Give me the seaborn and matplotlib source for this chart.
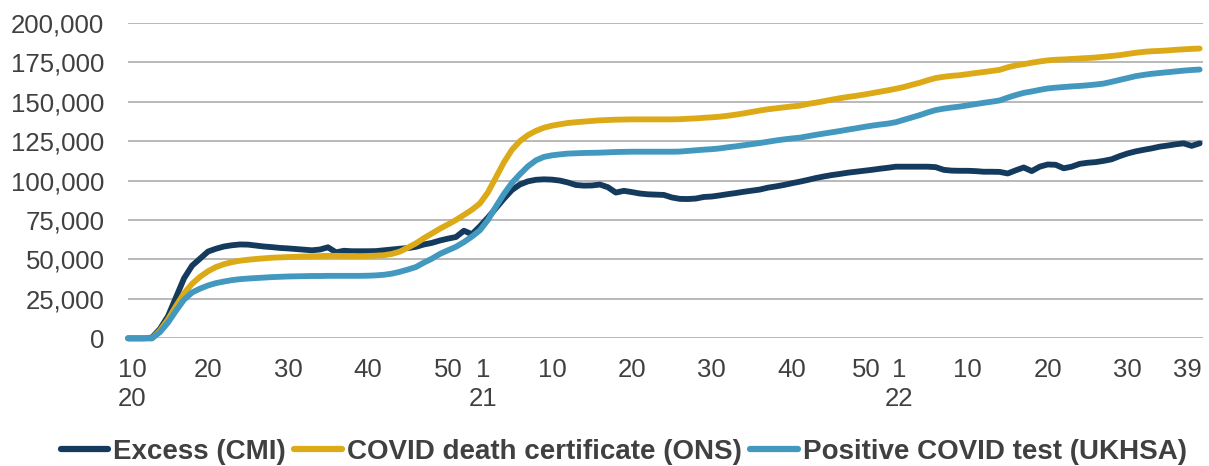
import numpy as np
import pandas as pd
import matplotlib.pyplot as plt
import matplotlib.transforms as mtrans
import seaborn as sns
from matplotlib.ticker import FuncFormatter

# weekly timeline: 2020 wk10 .. 2022 wk39
years = [2020] * 44 + [2021] * 52 + [2022] * 39
weeks = list(range(10, 54)) + list(range(1, 53)) + list(range(1, 40))

excess_cmi = [
    0, 0, 0, 500, 6000, 14000, 26000, 38000, 46000, 50500,
    55000, 56800, 58200, 59000, 59500, 59400, 58800, 58200, 57800, 57300,
    57000, 56600, 56200, 55800, 56300, 57700, 54500, 55500, 55200, 55200,
    55200, 55300, 55800, 56300, 56800, 57200, 58000, 59500, 60500, 62000,
    63200, 64200, 68200, 66000, 71000, 76500, 82500, 88500, 94000, 97500,
    99500, 100500, 100800, 100600, 100000, 98800, 97200, 96800, 96900, 97500,
    95800, 92400, 93500, 92700, 91800, 91300, 91100, 90900, 89300, 88400,
    88300, 88600, 89600, 89900, 90600, 91400, 92100, 92900, 93600, 94300,
    95500, 96300, 97200, 98300, 99300, 100400, 101600, 102600, 103500, 104200,
    105000, 105600, 106200, 106800, 107500, 108100, 108800, 108800, 108800, 108800,
    108800, 108500, 106800, 106300, 106200, 106200, 106000, 105600, 105600, 105500,
    104500, 106500, 108300, 106000, 108800, 110200, 110000, 107800, 108800, 110600,
    111300, 111700, 112500, 113500, 115500, 117200, 118500, 119500, 120400, 121500,
    122200, 123000, 123600, 122000, 123600,
]

ons_cert = [
    0, 0, 0, 0, 5000, 12000, 20500, 28500, 34500, 39000,
    42500, 45200, 47000, 48300, 49200, 49800, 50300, 50700, 51100, 51300,
    51500, 51700, 51900, 52000, 52100, 52300, 52300, 52200, 52200, 52100,
    52200, 52400, 52700, 53500, 55000, 57500, 60200, 63500, 66500, 69500,
    72200, 75000, 78200, 81500, 85500, 92500, 102000, 111500, 119500, 125000,
    128800, 131500, 133500, 134800, 135700, 136500, 137000, 137400, 137800, 138200,
    138400, 138600, 138700, 138800, 138800, 138800, 138800, 138800, 138800, 138900,
    139200, 139400, 139800, 140100, 140500, 141100, 141800, 142600, 143500, 144400,
    145200, 145800, 146400, 147000, 147500, 148600, 149400, 150300, 151300, 152200,
    153000, 153700, 154500, 155400, 156300, 157200, 158200, 159300, 160700, 162000,
    163600, 165000, 165800, 166400, 166800, 167500, 168200, 168800, 169500, 170200,
    171800, 173000, 173800, 174700, 175500, 176200, 176600, 176800, 177100, 177400,
    177700, 178000, 178500, 179000, 179500, 180300, 181000, 181600, 182000, 182200,
    182500, 182900, 183200, 183500, 183700,
]

ukhsa_test = [
    0, 0, 0, 0, 4000, 10000, 17500, 24500, 29000, 31500,
    33500, 35000, 36000, 36900, 37500, 37900, 38200, 38500, 38800, 39000,
    39200, 39300, 39400, 39500, 39500, 39600, 39600, 39600, 39600, 39600,
    39700, 39900, 40300, 41000, 42200, 43600, 45200, 48000, 50500, 53500,
    55800, 58000, 61000, 64500, 68500, 75000, 83500, 91500, 98500, 104000,
    109000, 112800, 115000, 116000, 116600, 117100, 117300, 117500, 117600, 117700,
    117900, 118100, 118200, 118300, 118300, 118300, 118300, 118300, 118300, 118400,
    118800, 119200, 119600, 119900, 120400, 121100, 121700, 122400, 123100, 123800,
    124600, 125400, 126100, 126700, 127200, 128100, 129000, 129800, 130600, 131400,
    132300, 133100, 134000, 134800, 135500, 136100, 137000, 138500, 140000, 141500,
    143200, 144700, 145600, 146300, 146900, 147700, 148500, 149300, 150000, 150800,
    152600, 154200, 155600, 156500, 157500, 158400, 158900, 159300, 159700, 160000,
    160400, 160900, 161500, 162600, 163800, 165000, 166200, 167000, 167700, 168200,
    168700, 169200, 169700, 170100, 170400,
]

series_names = ['Excess (CMI)', 'COVID death certificate (ONS)', 'Positive COVID test (UKHSA)']
colours = ['#143A5E', '#DCAA17', '#4298BE']

tick_points = [(2020, 10), (2020, 20), (2020, 30), (2020, 40), (2020, 50),
               (2021, 1), (2021, 10), (2021, 20), (2021, 30), (2021, 40), (2021, 50),
               (2022, 1), (2022, 10), (2022, 20), (2022, 30), (2022, 39)]
tick_labels = ['10\n20', '20', '30', '40', '50', '1\n21', '10', '20', '30', '40', '50',
               '1\n22', '10', '20', '30', '39']

df = pd.DataFrame({'year': years, 'week': weeks,
                   series_names[0]: excess_cmi,
                   series_names[1]: ons_cert,
                   series_names[2]: ukhsa_test})
df['t'] = np.arange(len(df))
long_df = df.melt(id_vars=['t', 'year', 'week'], value_vars=series_names,
                  var_name='series', value_name='deaths')

sns.set_theme(style='white')
plt.rcParams['font.family'] = ['Liberation Sans', 'DejaVu Sans']
text_col = '#404040'

fig = plt.figure(figsize=(12.09, 4.66), dpi=100)
ax = fig.add_axes([0.1059, 0.274, 0.889, 0.677])

sns.lineplot(data=long_df, x='t', y='deaths', hue='series', hue_order=series_names,
             palette=colours, linewidth=4.2, ax=ax, legend=False, zorder=3)
for ln in ax.get_lines():
    ln.set_clip_on(False)
    ln.set_solid_capstyle('round')
    ln.set_solid_joinstyle('round')

ax.set_ylim(0, 200000)
ax.set_xlim(0, 134.4)
ax.set_yticks(range(0, 200001, 25000))
ax.yaxis.set_major_formatter(FuncFormatter(lambda v, p: f'{v:,.0f}'))

pos = [df.index[(df['year'] == y) & (df['week'] == w)][0] for y, w in tick_points]
ax.set_xticks(pos)
ax.set_xticklabels(tick_labels, linespacing=1.3)

ax.grid(axis='y', color='#B3B3B3', linewidth=1.3)
ax.grid(axis='x', visible=False)
ax.set_axisbelow(True)
for s in ax.spines.values():
    s.set_visible(False)
ax.tick_params(axis='y', length=0, pad=17, labelsize=18.5, labelcolor=text_col)
ax.tick_params(axis='x', length=0, pad=14, labelsize=18.5, labelcolor=text_col)
ax.set_xlabel('')
ax.set_ylabel('')

# nudge crowded labels sideways (pixels), like the original
nudges = {0: 4, 5: 3, 10: -5, 11: 3, 15: -12}
for i, lab in enumerate(ax.get_xticklabels()):
    if i in nudges:
        lab.set_transform(lab.get_transform() +
                          mtrans.ScaledTranslation(nudges[i] / 100, 0, fig.dpi_scale_trans))

handles = [plt.Line2D([], [], color=c, linewidth=4.5, solid_capstyle='round') for c in colours]
leg = fig.legend(handles, series_names, loc='center', bbox_to_anchor=(0.516, 0.03), ncol=3,
                 frameon=False, handlelength=1.7, handletextpad=0.2, columnspacing=0.3,
                 prop={'weight': 'bold', 'size': 20})
for t in leg.get_texts():
    t.set_color(text_col)

fig.savefig('out.png', dpi=100)
